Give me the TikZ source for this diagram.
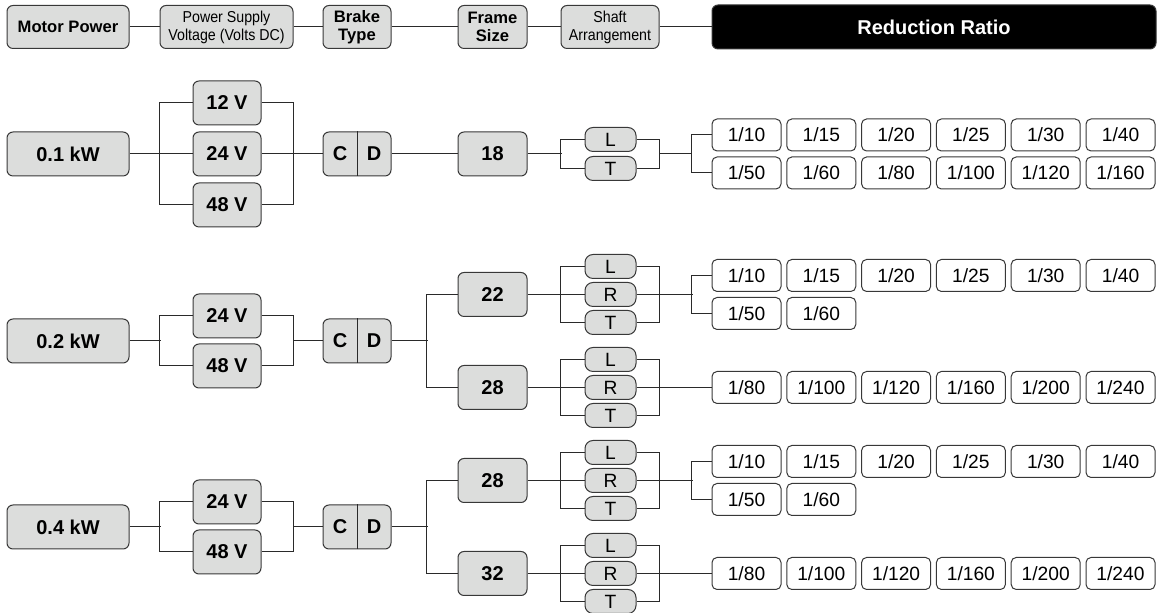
\documentclass[tikz,border=0pt]{standalone}
\usepackage{fontspec}
\setmainfont{Liberation Sans}
\usetikzlibrary{calc}
\definecolor{cbox}{HTML}{DCDDDC}
\definecolor{cedge}{HTML}{383838}
\definecolor{cwire}{HTML}{2A2A2A}
\newcommand{\hd}{\fontsize{8.3}{9}\selectfont\bfseries}
\newcommand{\hsm}{\fontsize{7.9}{9}\selectfont\addfontfeature{FakeStretch=0.9}}

\begin{document}
\begin{tikzpicture}[
  x=0.5pt, y=-0.5pt,
  base/.style={draw=cedge, line width=0.5pt, inner sep=0pt, align=center},
  gbox/.style={base, fill=cbox, rounded corners=3pt, minimum width=#1, minimum height=22pt,
               font=\fontsize{10}{12}\selectfont\bfseries},
  gbox/.default=34pt,
  head/.style={base, fill=cbox, rounded corners=3pt, minimum width=#1, minimum height=21.5pt, font=\hd},
  lbl/.style={inner sep=0pt, font=\fontsize{10}{12}\selectfont\bfseries},
  shaft/.style={base, fill=cbox, rounded corners=4pt, minimum width=25.5pt, minimum height=12pt,
                font=\fontsize{9.6}{10}\selectfont},
  ratio/.style={base, fill=white, rounded corners=2.5pt, minimum width=34.5pt, minimum height=16pt,
                font=\fontsize{9.6}{10}\selectfont},
  wire/.style={draw=cwire, line width=0.5pt},
]
\useasboundingbox (0,0) rectangle (1163,613);

% ------------------------------------------------------------ header
\node[head=61pt] (hmotor) at (68,27) {Motor Power};
\node[head=66.5pt, font=\hsm] (hvolt) at (226.5,27) {Power Supply\\Voltage (Volts DC)};
\node[head=34pt] (hbrake) at (357,27) {Brake\\Type};
\node[head=34.5pt] (hframe) at (492.5,27) {Frame\\Size};
\node[head=49pt, font=\hsm] (hshaft) at (610,27) {Shaft\\Arrangement};
\node[base, fill=black, text=white, rounded corners=3pt, minimum width=222pt, minimum height=22pt,
      font=\fontsize{10}{12}\selectfont\bfseries] (hratio) at (934,27) {Reduction Ratio};
\draw[wire] (hmotor.east) -- (hvolt.west) (hvolt.east) -- (hbrake.west)
  (hbrake.east) -- (hframe.west) (hframe.east) -- (hshaft.west) (hshaft.east) -- (hratio.west);

% ------------------------------------------------------------ 0.1 kW
\node[gbox=61pt] (m1) at (68,154) {0.1 kW};
\node[gbox] (v1a) at (227,103) {12 V};
\node[gbox] (v1b) at (227,154) {24 V};
\node[gbox] (v1c) at (227,205) {48 V};
\node[gbox] (cd1) at (357,154) {};
\node[lbl] (cd1c) at ([xshift=-8.5pt]cd1.center) {C};
\node[lbl] (cd1d) at ([xshift=8.5pt]cd1.center) {D};
\draw[wire] (cd1.north) -- (cd1.south);
\node[gbox=34.5pt] (f1) at (492.5,154) {18};
\node[shaft] (s1l) at (610.5,139.5) {L};
\node[shaft] (s1t) at (610.5,168.5) {T};
\foreach \t [count=\i from 0] in {1/10,1/15,1/20,1/25,1/30,1/40}
  \node[ratio] (r1a\i) at ({746.5+74.8*\i},135) {\t};
\foreach \t [count=\i from 0] in {1/50,1/60,1/80,1/100,1/120,1/160}
  \node[ratio] (r1b\i) at ({746.5+74.8*\i},173) {\t};

\draw[wire] (m1.east) -- (v1b.west) (v1a.west) -- ++(-16.5pt,0) |- (v1c.west);
\draw[wire] (v1b.east) -- (cd1.west) (v1a.east) -- ++(16pt,0) |- (v1c.east);
\draw[wire] (cd1.east) -- (f1.west);
\draw[wire] (f1.east) -- ++(17pt,0) (s1l.west) -- ++(-12pt,0) |- (s1t.west);
\draw[wire] (s1l.east) -- ++(11.5pt,0) |- (s1t.east);
\draw[wire] ([xshift=11.5pt]s1l.east |- f1.east) -- ([xshift=-10pt]r1a0.west |- f1.east);
\draw[wire] (r1a0.west) -- ++(-10pt,0) |- (r1b0.west);

% ------------------------------------------------------------ 0.2 kW
\node[gbox=61pt] (m2) at (68,341) {0.2 kW};
\node[gbox] (v2a) at (227,316) {24 V};
\node[gbox] (v2b) at (227,366) {48 V};
\node[gbox] (cd2) at (357,341) {};
\node[lbl] (cd2c) at ([xshift=-8.5pt]cd2.center) {C};
\node[lbl] (cd2d) at ([xshift=8.5pt]cd2.center) {D};
\draw[wire] (cd2.north) -- (cd2.south);
\node[gbox=34.5pt] (f2a) at (492.5,294.5) {22};
\node[gbox=34.5pt] (f2b) at (492.5,387.5) {28};
\node[shaft] (s2al) at (610.5,266.5) {L};
\node[shaft] (s2ar) at (610.5,294.5) {R};
\node[shaft] (s2at) at (610.5,322.5) {T};
\node[shaft] (s2bl) at (610.5,359.5) {L};
\node[shaft] (s2br) at (610.5,387.5) {R};
\node[shaft] (s2bt) at (610.5,415.5) {T};
\foreach \t [count=\i from 0] in {1/10,1/15,1/20,1/25,1/30,1/40}
  \node[ratio] (r2a\i) at ({746.5+74.8*\i},275.5) {\t};
\foreach \t [count=\i from 0] in {1/50,1/60}
  \node[ratio] (r2b\i) at ({746.5+74.8*\i},313.5) {\t};
\foreach \t [count=\i from 0] in {1/80,1/100,1/120,1/160,1/200,1/240}
  \node[ratio] (r2c\i) at ({746.5+74.8*\i},387.5) {\t};

\draw[wire] (m2.east) -- ++(15.5pt,0) (v2a.west) -- ++(-16.5pt,0) |- (v2b.west);
\draw[wire] (cd2.west) -- ++(-15pt,0) (v2a.east) -- ++(16pt,0) |- (v2b.east);
\draw[wire] (cd2.east) -- ++(18pt,0) (f2a.west) -- ++(-15.5pt,0) |- (f2b.west);
\draw[wire] (f2a.east) -- (s2ar.west) (s2al.west) -- ++(-12pt,0) |- (s2at.west);
\draw[wire] (s2ar.east) -- ++(28pt,0) (s2al.east) -- ++(11.5pt,0) |- (s2at.east);
\draw[wire] (r2a0.west) -- ++(-10pt,0) |- (r2b0.west);
\draw[wire] (f2b.east) -- (s2br.west) (s2bl.west) -- ++(-12pt,0) |- (s2bt.west);
\draw[wire] (s2br.east) -- (r2c0.west) (s2bl.east) -- ++(11.5pt,0) |- (s2bt.east);

% ------------------------------------------------------------ 0.4 kW
\node[gbox=61pt] (m3) at (68,527) {0.4 kW};
\node[gbox] (v3a) at (227,502) {24 V};
\node[gbox] (v3b) at (227,552) {48 V};
\node[gbox] (cd3) at (357,527) {};
\node[lbl] (cd3c) at ([xshift=-8.5pt]cd3.center) {C};
\node[lbl] (cd3d) at ([xshift=8.5pt]cd3.center) {D};
\draw[wire] (cd3.north) -- (cd3.south);
\node[gbox=34.5pt] (f3a) at (492.5,480.5) {28};
\node[gbox=34.5pt] (f3b) at (492.5,573.5) {32};
\node[shaft] (s3al) at (610.5,452.5) {L};
\node[shaft] (s3ar) at (610.5,480.5) {R};
\node[shaft] (s3at) at (610.5,508.5) {T};
\node[shaft] (s3bl) at (610.5,545.5) {L};
\node[shaft] (s3br) at (610.5,573.5) {R};
\node[shaft] (s3bt) at (610.5,601.5) {T};
\foreach \t [count=\i from 0] in {1/10,1/15,1/20,1/25,1/30,1/40}
  \node[ratio] (r3a\i) at ({746.5+74.8*\i},461.5) {\t};
\foreach \t [count=\i from 0] in {1/50,1/60}
  \node[ratio] (r3b\i) at ({746.5+74.8*\i},499.5) {\t};
\foreach \t [count=\i from 0] in {1/80,1/100,1/120,1/160,1/200,1/240}
  \node[ratio] (r3c\i) at ({746.5+74.8*\i},573.5) {\t};

\draw[wire] (m3.east) -- ++(15.5pt,0) (v3a.west) -- ++(-16.5pt,0) |- (v3b.west);
\draw[wire] (cd3.west) -- ++(-15pt,0) (v3a.east) -- ++(16pt,0) |- (v3b.east);
\draw[wire] (cd3.east) -- ++(18pt,0) (f3a.west) -- ++(-15.5pt,0) |- (f3b.west);
\draw[wire] (f3a.east) -- (s3ar.west) (s3al.west) -- ++(-12pt,0) |- (s3at.west);
\draw[wire] (s3ar.east) -- ++(28pt,0) (s3al.east) -- ++(11.5pt,0) |- (s3at.east);
\draw[wire] (r3a0.west) -- ++(-10pt,0) |- (r3b0.west);
\draw[wire] (f3b.east) -- (s3br.west) (s3bl.west) -- ++(-12pt,0) |- (s3bt.west);
\draw[wire] (s3br.east) -- (r3c0.west) (s3bl.east) -- ++(11.5pt,0) |- (s3bt.east);
\end{tikzpicture}
\end{document}
